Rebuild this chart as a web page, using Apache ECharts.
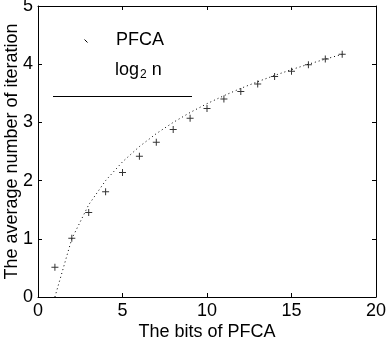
<!DOCTYPE html>
<html><head><meta charset="utf-8">
<script src="https://cdn.jsdelivr.net/npm/echarts@6/dist/echarts.min.js"></script>
<style>html,body{margin:0;padding:0;background:#fff}#c{width:386px;height:338px}</style>
</head><body><div id="c"></div>
<script>
var bits = [1,2,3,4,5,6,7,8,9,10,11,12,13,14,15,16,17,18];
var pfca = [0.51,1.01,1.45,1.81,2.14,2.42,2.66,2.88,3.07,3.24,3.40,3.53,3.66,3.79,3.88,3.99,4.09,4.17];
var log2n = [0,1,1.585,2,2.322,2.585,2.807,3,3.17,3.322,3.459,3.585,3.7,3.807,3.907,4,4.087,4.17];
var xTicks = [0,5,10,15,20];
var yTicks = [0,1,2,3,4,5];

var font = 'Liberation Sans, Arial, Helvetica, sans-serif';
var chart = echarts.init(document.getElementById('c'));
function pairs(xs, ys){ return xs.map(function(x,i){return [x, ys[i]];}); }
function common(){ return {
  axisLine:{show:true,onZero:false,lineStyle:{color:'#000',width:1}},
  axisTick:{show:true,inside:true,length:4,lineStyle:{color:'#000'}},
  splitLine:{show:false},
  nameMoveOverlap:false
};}
chart.setOption({
  animation:false,
  backgroundColor:'#fff',
  grid:{left:38,right:10,top:6,bottom:41,containLabel:false,outerBoundsMode:'none'},
  xAxis:[
    Object.assign(common(),{type:'value',min:0,max:20,interval:5,position:'bottom',
      name:'The bits of PFCA',nameLocation:'middle',nameGap:26,
      nameTextStyle:{color:'#000',fontSize:18,fontFamily:font},
      axisLabel:{color:'#000',fontSize:18,fontFamily:font,margin:5,
        formatter:function(v){return xTicks.indexOf(v)>=0?String(v):'';}}}),
    Object.assign(common(),{type:'value',min:0,max:20,interval:5,position:'top',axisLabel:{show:false}})
  ],
  yAxis:[
    Object.assign(common(),{type:'value',min:0,max:5,interval:1,position:'left',
      name:'The average number of iteration',nameLocation:'middle',nameGap:17,
      nameTextStyle:{color:'#000',fontSize:18,fontFamily:font},
      axisLabel:{color:'#000',fontSize:18,fontFamily:font,margin:5,
        formatter:function(v){return yTicks.indexOf(v)>=0?String(v):'';}}}),
    Object.assign(common(),{type:'value',min:0,max:5,interval:1,position:'right',axisLabel:{show:false}})
  ],
  series:[
    {type:'line',name:'log2 n',data:pairs(bits,log2n),showSymbol:false,symbol:'none',
      lineStyle:{color:'#000',width:1,type:[1,3]},z:2},
    {type:'scatter',name:'PFCA',data:pairs(bits,pfca),
      symbol:'path://M3,0h1v7h-1z M0,3h7v1h-7z',symbolSize:7,
      itemStyle:{color:'#000'},z:3}
  ],
  graphic:[
    {type:'line',shape:{x1:84.5,y1:39.5,x2:87.5,y2:42.5},style:{stroke:'#000',lineWidth:1}},
    {type:'text',left:116,top:31,style:{text:'PFCA',fill:'#000',font:'18px '+font}},
    {type:'text',left:115,top:61,style:{text:'{n|log}{s|2}{n| n}',fill:'#000',font:'18px '+font,
      rich:{n:{fontSize:18,fontFamily:font,color:'#000'},
            s:{fontSize:12,fontFamily:font,color:'#000',padding:[10,0,0,1]}}}},
    {type:'line',shape:{x1:53,y1:96.5,x2:192,y2:96.5},style:{stroke:'#000',lineWidth:1}}
  ]
});
</script></body></html>
